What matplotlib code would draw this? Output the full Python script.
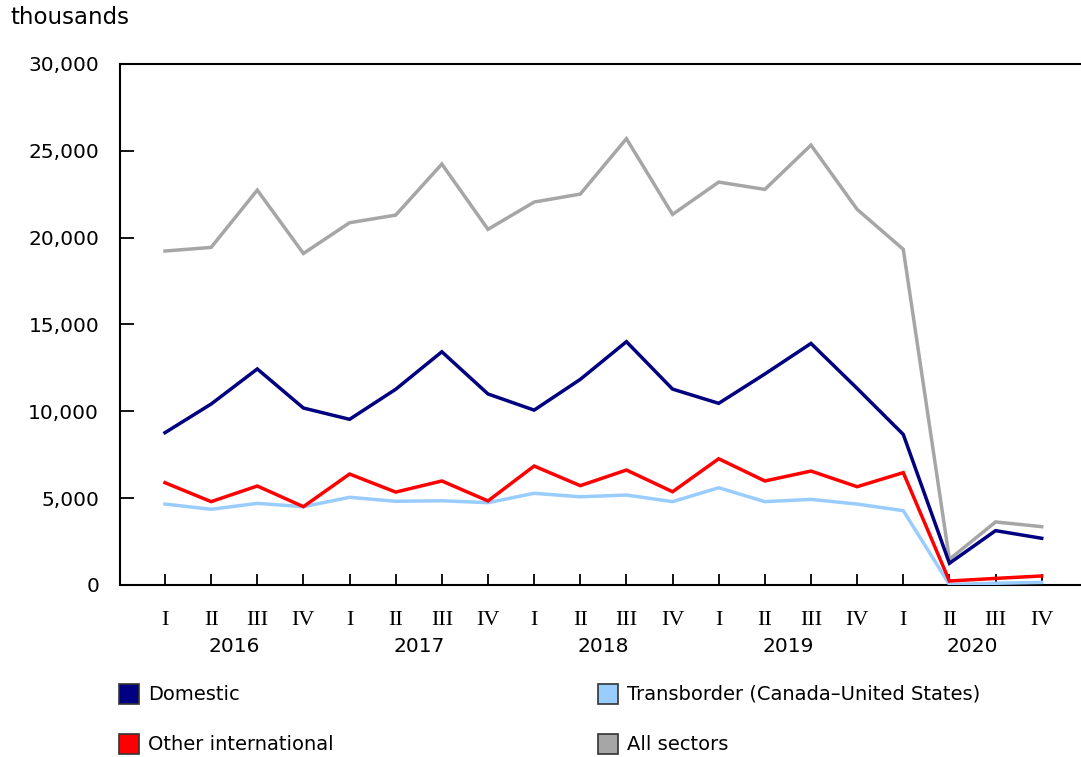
import matplotlib.pyplot as plt
from matplotlib.patches import Rectangle

# quarterly passengers, thousands (2016 Q1 .. 2020 Q4)
quarters = ['I', 'II', 'III', 'IV'] * 5
years = ['2016', '2017', '2018', '2019', '2020']
domestic = [8770, 10420, 12440, 10190, 9540, 11270, 13430, 11000, 10070, 11840,
            14010, 11280, 10460, 12150, 13910, 11320, 8670, 1250, 3130, 2690]
transborder = [4660, 4360, 4700, 4510, 5050, 4820, 4850, 4740, 5280, 5080,
               5180, 4800, 5600, 4800, 4930, 4660, 4280, 30, 100, 150]
other_intl = [5890, 4800, 5700, 4510, 6390, 5350, 5990, 4840, 6850, 5720,
              6620, 5370, 7270, 5990, 6560, 5660, 6470, 230, 380, 520]
all_sectors = [19230, 19440, 22740, 19090, 20860, 21300, 24240, 20480, 22050, 22510,
               25700, 21340, 23200, 22780, 25330, 21630, 19330, 1480, 3630, 3360]

series = [
    ('Domestic', domestic, '#000080'),
    ('Other international', other_intl, '#FF0000'),
    ('Transborder (Canada\u2013United States)', transborder, '#99CCFF'),
    ('All sectors', all_sectors, '#A6A6A6'),
]
draw_order = [3, 2, 1, 0]

fig = plt.figure(figsize=(10.81, 7.57), dpi=100)
ax = fig.add_axes([120 / 1081, 1 - 585 / 757, 960 / 1081, 521 / 757])

x = list(range(len(quarters)))
for k in draw_order:
    name, vals, col = series[k]
    ax.plot(x, vals, color=col, linewidth=2.5, solid_joinstyle='miter', zorder=3 + (3 - k) * 0.1)

ax.set_ylim(0, 30000)
ax.set_xlim(-0.975, 19.83)
ax.set_yticks(range(0, 30001, 5000))
ax.set_yticklabels(['{:,}'.format(v) for v in range(0, 30001, 5000)], fontsize=14.5)
ax.set_xticks(x)
ax.set_xticklabels(quarters, fontsize=16, family='Liberation Serif')
ax.tick_params(axis='y', direction='in', length=10, width=1.3, pad=15)
ax.tick_params(axis='x', direction='in', length=8, width=1.3, pad=19)
for s in ['left', 'bottom', 'top']:
    ax.spines[s].set_linewidth(1.5)
ax.spines['right'].set_visible(False)

for i, yr in enumerate(years):
    ax.text(i * 4 + 1.5, -0.118, yr, transform=ax.get_xaxis_transform(),
            ha='center', va='center', fontsize=14.5)

fig.text(10 / 1081, 1 - 17 / 757, 'thousands', fontsize=16.5, ha='left', va='center')

# legend
pos = [(119, 684), (119, 734), (598, 684), (598, 734)]
for (name, vals, col), (px, py) in zip(series, pos):
    fig.patches.append(Rectangle((px / 1081, 1 - (py + 20) / 757), 20 / 1081, 20 / 757,
                                 transform=fig.transFigure, facecolor=col,
                                 edgecolor='#333333', linewidth=1.2))
    fig.text((px + 29) / 1081, 1 - (py + 10) / 757, name, fontsize=14, va='center', ha='left')

fig.savefig('out.png', dpi=100)
